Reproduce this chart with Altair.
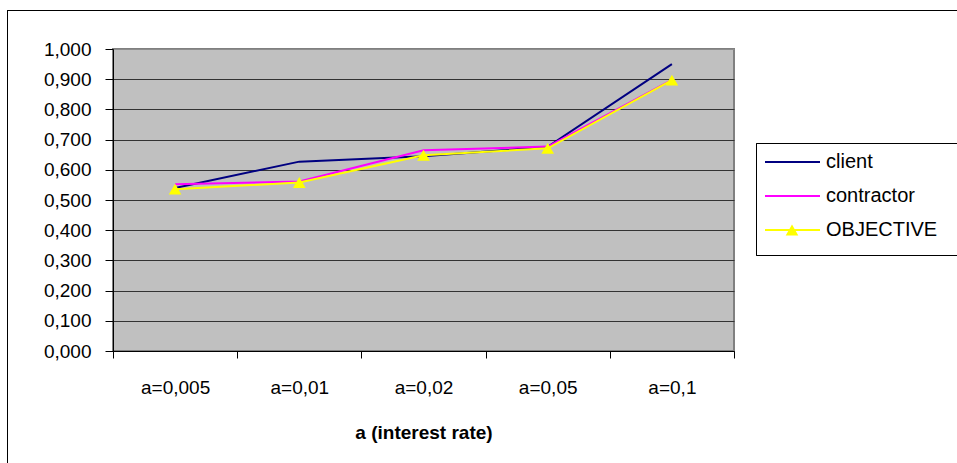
import altair as alt
import pandas as pd

# Interest-rate scenarios (x categories)
categories = ["a=0,005", "a=0,01", "a=0,02", "a=0,05", "a=0,1"]

# Series values per scenario
client = [0.540, 0.627, 0.645, 0.676, 0.950]
contractor = [0.552, 0.561, 0.665, 0.677, 0.898]
objective = [0.536, 0.558, 0.648, 0.671, 0.897]

series_names = ["client", "contractor", "OBJECTIVE"]
series_colors = ["#000080", "#FF00FF", "#FFFF00"]

y_ticks = [0.0, 0.1, 0.2, 0.3, 0.4, 0.5, 0.6, 0.7, 0.8, 0.9, 1.0]

rows = []
for name, vals in zip(series_names, [client, contractor, objective]):
    for cat, v in zip(categories, vals):
        rows.append({"a": cat, "series": name, "value": v})
df = pd.DataFrame(rows)
legend_df = pd.DataFrame({"series": series_names})

W, H = 621, 302
FONT = "Liberation Sans"

color = alt.Color("series:N", scale=alt.Scale(domain=series_names, range=series_colors), legend=None)

x_enc = alt.X(
    "a:N",
    sort=categories,
    scale=alt.Scale(type="band", paddingInner=0, paddingOuter=0),
    bandPosition=0.5,
    axis=alt.Axis(
        title="a (interest rate)",
        labelAngle=0,
        tickBand="extent",
        tickSize=7,
        labelPadding=20,
        titlePadding=26,
        titleFontWeight="bold",
        grid=False,
    ),
)
y_enc = alt.Y(
    "value:Q",
    scale=alt.Scale(domain=[0, 1], nice=False),
    axis=alt.Axis(
        values=y_ticks,
        labelExpr="replace(format(datum.value, '.3f'), '.', ',')",
        title=None,
        grid=True,
        gridColor=alt.condition("datum.value >= 1", alt.value("#8C8C8C"), alt.value("#333333")),
        tickSize=8,
        labelPadding=14,
    ),
)

base = alt.Chart(df)
lines = base.mark_line(strokeWidth=2).encode(x=x_enc, y=y_enc, color=color, detail="series:N")
points = (
    base.transform_filter(alt.datum.series == "OBJECTIVE")
    .mark_point(shape="triangle-up", filled=True, size=160, opacity=1, color="#FFFF00", strokeWidth=0)
    .encode(x=x_enc, y=y_enc)
)
main = alt.layer(lines, points)

# Outer chart frame
frame = alt.Chart(legend_df).mark_rect(fill=None, stroke="black", strokeWidth=1).encode(
    x=alt.value(-105.5), x2=alt.value(W + 300), y=alt.value(-38.5), y2=alt.value(H + 200)
)

# Legend
leg_y = alt.Y(
    "series:N",
    sort=series_names,
    scale=alt.Scale(type="point", domain=series_names, range=[113, 181], padding=0),
    axis=None,
)
legend_box = alt.Chart(legend_df).mark_rect(fill="white", stroke="black", strokeWidth=1).encode(
    x=alt.value(643.5), x2=alt.value(W + 240), y=alt.value(94.5), y2=alt.value(206.5)
)
legend_lines = alt.Chart(legend_df).mark_rule(strokeWidth=2).encode(
    x=alt.value(652), x2=alt.value(707), y=leg_y, color=color
)
legend_tri = (
    alt.Chart(legend_df)
    .transform_filter(alt.datum.series == "OBJECTIVE")
    .mark_point(shape="triangle-up", filled=True, size=160, opacity=1, color="#FFFF00", strokeWidth=0)
    .encode(x=alt.value(679), y=leg_y)
)
legend_text = alt.Chart(legend_df).mark_text(
    align="left", baseline="middle", font=FONT, fontSize=20, color="black"
).encode(x=alt.value(713), y=leg_y, text="series:N")
legend = alt.layer(legend_lines, legend_tri, legend_text)

chart = (
    alt.layer(frame, main, legend_box, legend)
    .resolve_scale(y="independent")
    .properties(
        width=W,
        height=H,
        autosize=alt.AutoSizeParams(type="none"),
        padding={"left": 113, "top": 49, "right": 223, "bottom": 112},
        background="white",
    )
    .configure_view(fill="#C0C0C0", stroke="#808080", strokeWidth=2)
    .configure_axis(
        labelFont=FONT,
        titleFont=FONT,
        labelFontSize=19,
        titleFontSize=19,
        labelColor="black",
        titleColor="black",
        domainColor="black",
        tickColor="black",
        domainWidth=1,
        tickWidth=1,
    )
)

chart.save("out.html", embed_options={"renderer": "svg", "actions": False})
